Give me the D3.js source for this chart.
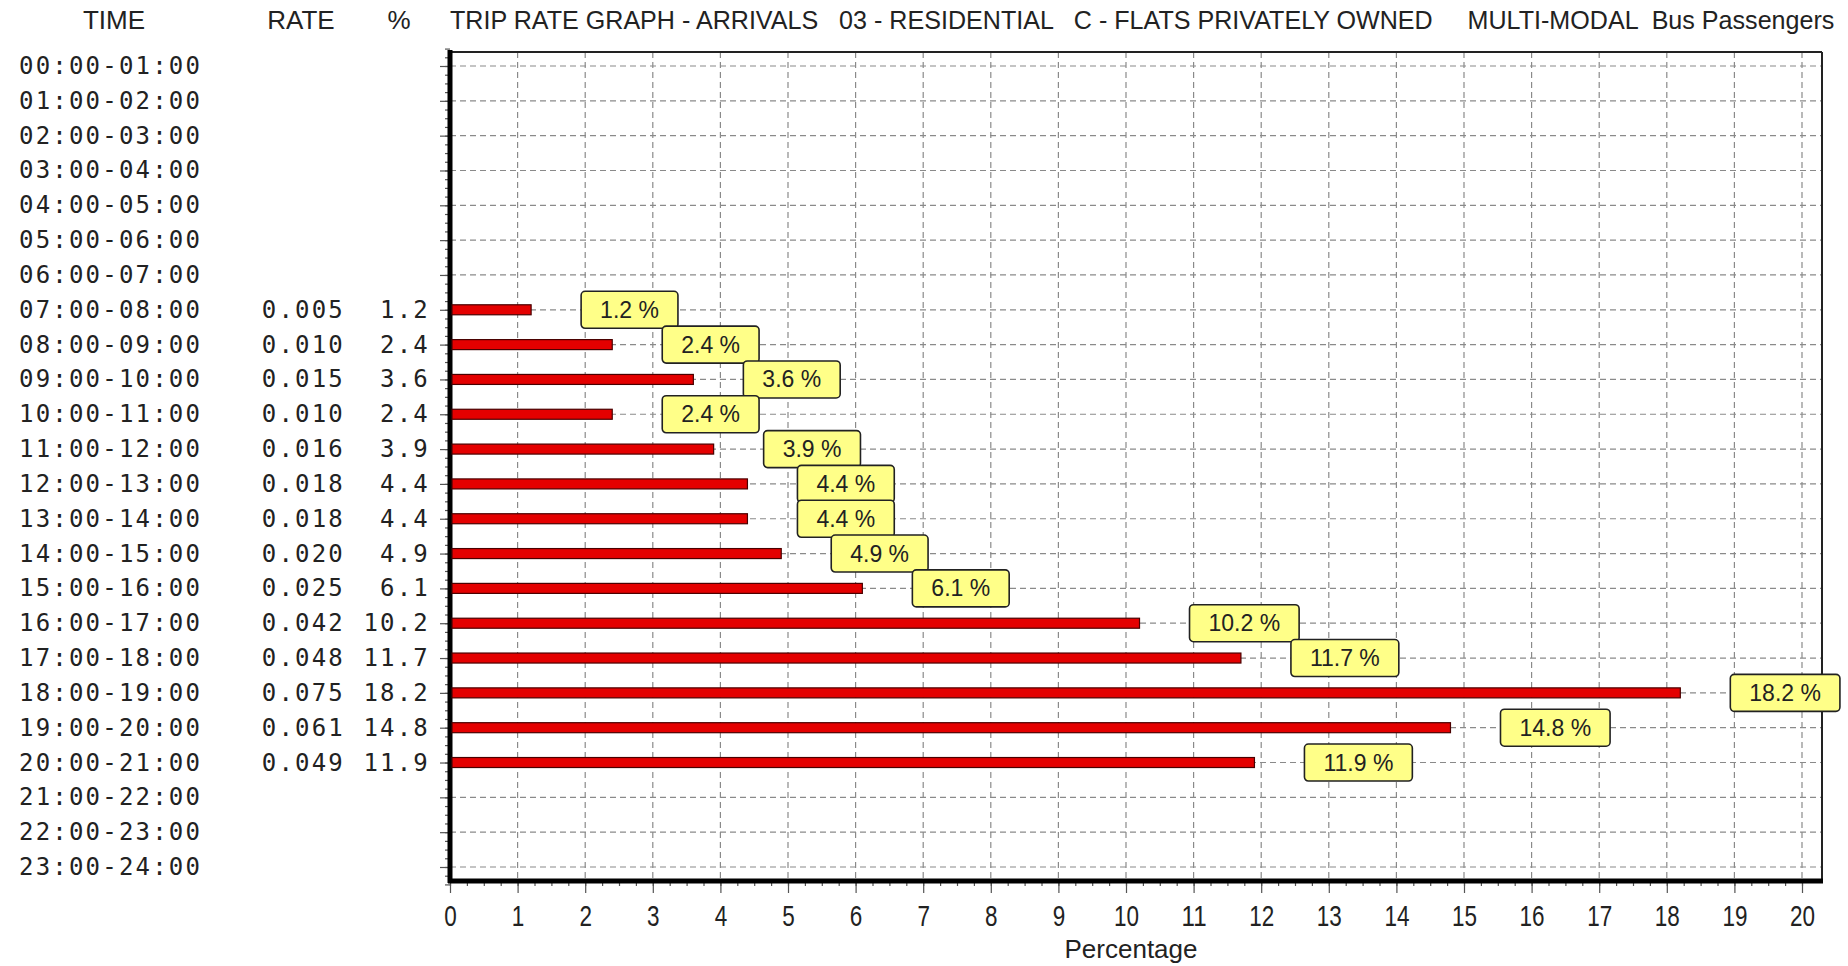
<!DOCTYPE html>
<html>
<head>
<meta charset="utf-8">
<script src="https://cdn.jsdelivr.net/npm/d3@7"></script>
<style>
  html, body { margin: 0; padding: 0; background: #fff; }
  svg { display: block; }
</style>
</head>
<body>
<svg id="chart" width="1848" height="966"></svg>
<script>
// ---- data ----
const times = ["00:00-01:00","01:00-02:00","02:00-03:00","03:00-04:00","04:00-05:00","05:00-06:00",
  "06:00-07:00","07:00-08:00","08:00-09:00","09:00-10:00","10:00-11:00","11:00-12:00",
  "12:00-13:00","13:00-14:00","14:00-15:00","15:00-16:00","16:00-17:00","17:00-18:00",
  "18:00-19:00","19:00-20:00","20:00-21:00","21:00-22:00","22:00-23:00","23:00-24:00"];
const rates = [null,null,null,null,null,null,null,
  "0.005","0.010","0.015","0.010","0.016","0.018","0.018","0.020","0.025","0.042","0.048","0.075","0.061","0.049",
  null,null,null];
const percents = [null,null,null,null,null,null,null,
  1.2,2.4,3.6,2.4,3.9,4.4,4.4,4.9,6.1,10.2,11.7,18.2,14.8,11.9,
  null,null,null];
const xTicks = d3.range(0, 21);
const headers = ["TIME", "RATE", "%"];
const title = "TRIP RATE GRAPH - ARRIVALS   03 - RESIDENTIAL   C - FLATS PRIVATELY OWNED     MULTI-MODAL  Bus Passengers";
const xLabel = "Percentage";

// ---- layout ----
const svg = d3.select("#chart");
const plotL = 450, plotR = 1822, plotT = 52, plotB = 881;
const x = d3.scaleLinear().domain([0, 20]).range([plotL, 1802]);
const y = d3.scalePoint().domain(times).range([66, 867]);
const yLin = d3.scaleLinear().domain([0, times.length - 1]).range([66, 867]);

const sans = "'Liberation Sans', Arial, sans-serif";
const mono = "'DejaVu Sans Mono', 'Liberation Mono', monospace";

// grid
const grid = svg.append("g").attr("stroke", "#8a8a8a").attr("stroke-width", 1.2)
  .attr("stroke-dasharray", "6,4").attr("fill", "none");
grid.selectAll("line.h").data(times).join("line").attr("class", "h")
  .attr("x1", plotL).attr("x2", plotR).attr("y1", d => y(d)).attr("y2", d => y(d));
grid.selectAll("line.v").data(xTicks.filter(d => d > 0)).join("line").attr("class", "v")
  .attr("x1", d => x(d)).attr("x2", d => x(d)).attr("y1", plotT).attr("y2", plotB);

// frame top/right
svg.append("line").attr("x1", plotL).attr("x2", plotR).attr("y1", plotT).attr("y2", plotT)
  .attr("stroke", "#222").attr("stroke-width", 2);
svg.append("line").attr("x1", plotR).attr("x2", plotR).attr("y1", plotT).attr("y2", plotB)
  .attr("stroke", "#222").attr("stroke-width", 2);

// left axis ticks
const leftMinor = svg.append("g").attr("transform", `translate(${plotL},0)`)
  .call(d3.axisLeft(yLin).tickValues(d3.range(-0.5, 23.51, 0.25)).tickSize(5).tickFormat(""));
const leftMajor = svg.append("g").attr("transform", `translate(${plotL},0)`)
  .call(d3.axisLeft(yLin).tickValues(d3.range(0, 24)).tickSize(10).tickFormat(""));
[leftMinor, leftMajor].forEach(g => { g.select(".domain").remove(); g.selectAll("line").attr("stroke", "#555").attr("stroke-width", 1.2); });

// bottom axis ticks
const botMinor = svg.append("g").attr("transform", `translate(0,${plotB})`)
  .call(d3.axisBottom(x).tickValues(d3.range(0, 20.01, 0.25)).tickSize(5).tickFormat(""));
const botMajor = svg.append("g").attr("transform", `translate(0,${plotB})`)
  .call(d3.axisBottom(x).tickValues(xTicks).tickSize(12).tickPadding(12).tickFormat(d3.format("d")));
[botMinor, botMajor].forEach(g => { g.select(".domain").remove(); g.selectAll("line").attr("stroke", "#555").attr("stroke-width", 1.2); });
botMajor.selectAll("text")
  .attr("font-family", sans).attr("font-size", 30).attr("fill", "#222")
  .attr("textLength", d => String(d).length * 12.5).attr("lengthAdjust", "spacingAndGlyphs");

// thick axes
svg.append("line").attr("x1", plotL).attr("x2", plotL).attr("y1", plotT - 2).attr("y2", plotB + 2)
  .attr("stroke", "#000").attr("stroke-width", 5);
svg.append("line").attr("x1", plotL - 2).attr("x2", plotR + 1).attr("y1", plotB).attr("y2", plotB)
  .attr("stroke", "#000").attr("stroke-width", 5);

// bars
const rows = times.map((t, i) => ({ t, rate: rates[i], pct: percents[i] }));
const dataRows = rows.filter(d => d.pct !== null);
svg.append("g").selectAll("rect").data(dataRows).join("rect")
  .attr("x", x(0) + 2).attr("y", d => y(d.t) - 5).attr("height", 10)
  .attr("width", d => x(d.pct) - x(0) - 2)
  .attr("fill", "#e40000").attr("stroke", "#4a0000").attr("stroke-width", 1.2);

// value labels
const lab = svg.append("g").selectAll("g").data(dataRows).join("g")
  .attr("transform", d => `translate(${x(d.pct) + 50},${y(d.t)})`);
lab.append("rect").attr("class", "box");
lab.append("text").text(d => d.pct.toFixed(1) + " %")
  .attr("font-family", sans).attr("font-size", 23).attr("fill", "#222")
  .attr("text-anchor", "middle").attr("dominant-baseline", "central");
lab.each(function() {
  const g = d3.select(this);
  const w = g.select("text").node().getComputedTextLength() + 38;
  g.select("text").attr("x", w / 2);
  g.select("rect").attr("x", 0).attr("y", -18.5).attr("width", w).attr("height", 37)
    .attr("rx", 4).attr("fill", "#ffff88").attr("stroke", "#222").attr("stroke-width", 1.6);
});

// row labels
svg.append("g").selectAll("text").data(rows).join("text")
  .attr("x", 19).attr("y", d => y(d.t)).attr("dominant-baseline", "central")
  .attr("font-family", mono).attr("font-size", 24).attr("letter-spacing", 2.2).attr("fill", "#222")
  .text(d => d.t);
svg.append("g").selectAll("text").data(dataRows).join("text")
  .attr("x", 345).attr("y", d => y(d.t)).attr("dominant-baseline", "central").attr("text-anchor", "end")
  .attr("font-family", mono).attr("font-size", 24).attr("letter-spacing", 2.2).attr("fill", "#222")
  .text(d => d.rate);
svg.append("g").selectAll("text").data(dataRows).join("text")
  .attr("x", 430).attr("y", d => y(d.t)).attr("dominant-baseline", "central").attr("text-anchor", "end")
  .attr("font-family", mono).attr("font-size", 24).attr("letter-spacing", 2.2).attr("fill", "#222")
  .text(d => d.pct.toFixed(1));

// headers
const headerX = [114, 301, 399];
svg.append("g").selectAll("text").data(headers).join("text")
  .attr("x", (d, i) => headerX[i]).attr("y", 20).attr("text-anchor", "middle").attr("dominant-baseline", "central")
  .attr("font-family", sans).attr("font-size", 26).attr("fill", "#222")
  .text(d => d);

// title: condensed via horizontal scale so it fits the width
const titleG = svg.append("g");
const titleT = titleG.append("text").attr("x", 0).attr("y", 0).attr("dominant-baseline", "central")
  .attr("font-family", sans).attr("font-size", 26).attr("fill", "#222")
  .attr("xml:space", "preserve").style("white-space", "pre")
  .text(title);
const natW = titleT.node().getComputedTextLength();
titleG.attr("transform", `translate(${plotL},20) scale(${1385 / natW},1)`);

// x label
svg.append("text").attr("x", 1131).attr("y", 949).attr("text-anchor", "middle").attr("dominant-baseline", "central")
  .attr("font-family", sans).attr("font-size", 26).attr("fill", "#222")
  .text(xLabel);
</script>
</body>
</html>
